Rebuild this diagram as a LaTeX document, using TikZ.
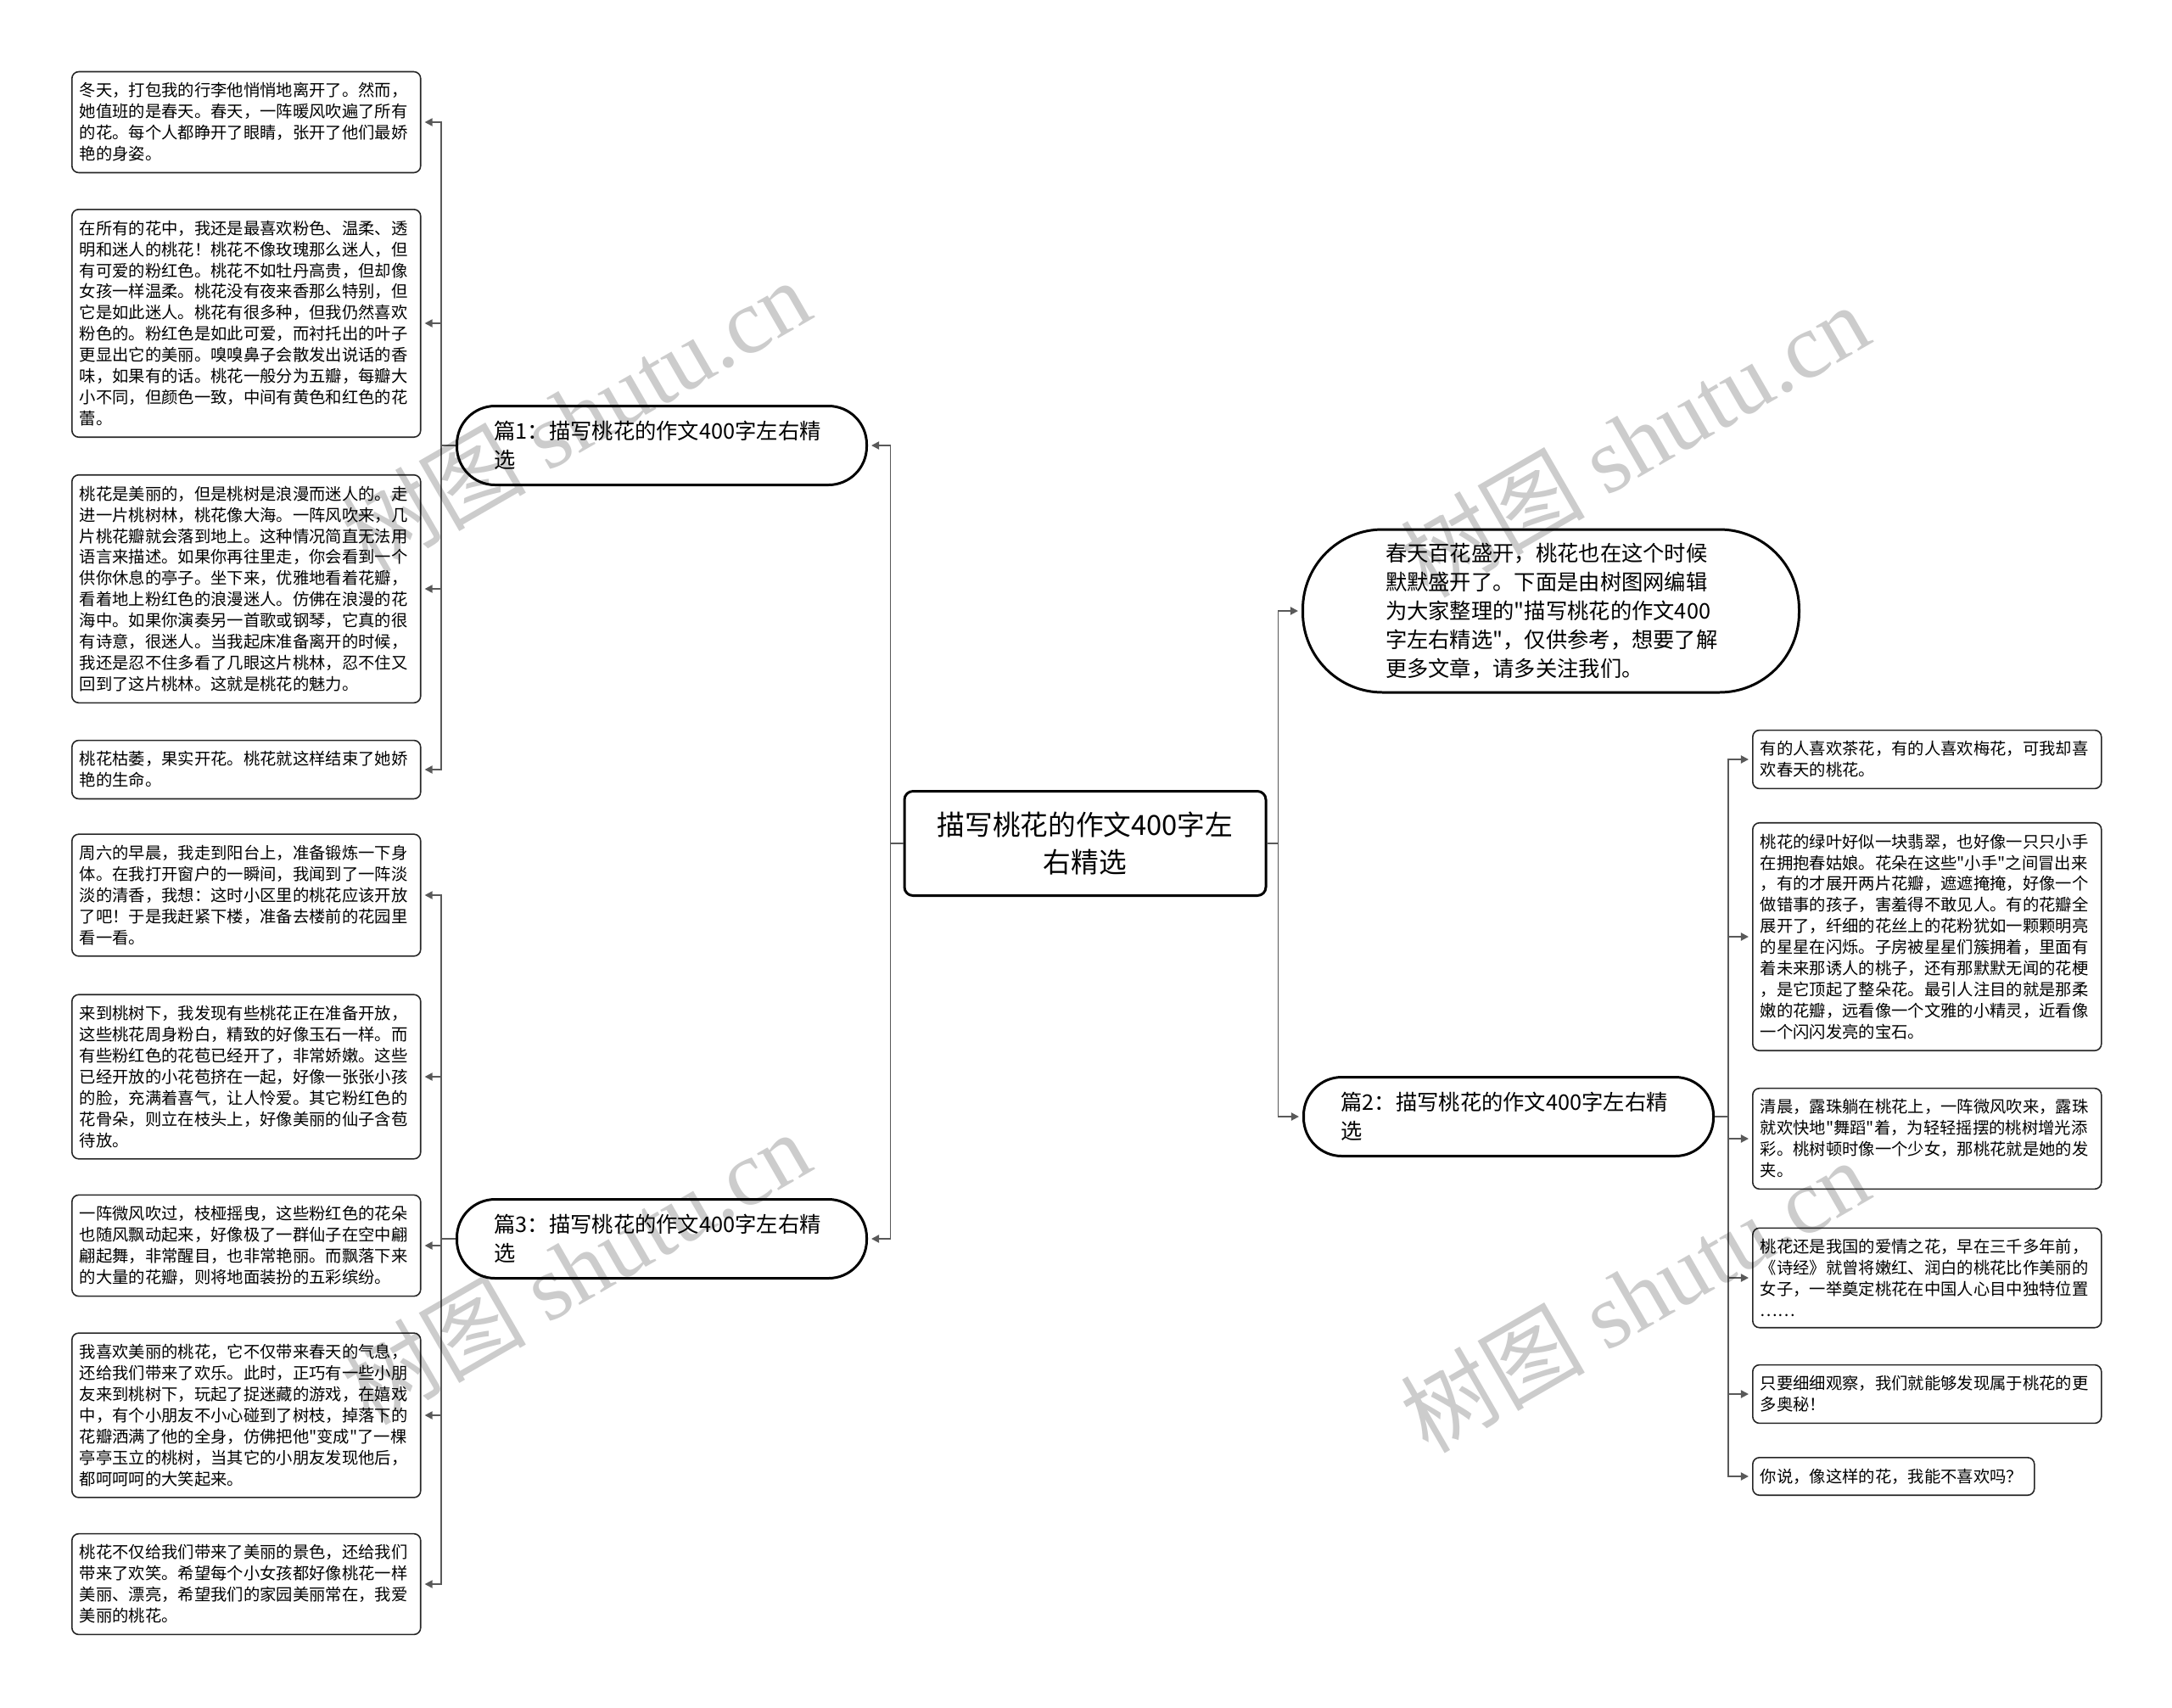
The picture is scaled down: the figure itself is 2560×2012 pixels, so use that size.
\documentclass[tikz,border=0pt]{standalone}
\usepackage{fontspec}
\setmainfont{Noto Sans CJK SC}[Ligatures=TeXOff]
\newfontfamily\wmlatin{Liberation Serif}
\usetikzlibrary{arrows.meta}

\newcommand{\leaffont}{\fontsize{5.5pt}{7.1pt}\selectfont}
\newcommand{\midfont}{\fontsize{7.2pt}{9.7pt}\selectfont}
\newcommand{\rootfont}{\fontsize{9.3pt}{12.5pt}\selectfont}
\newcommand{\wmtext}{\fontsize{31pt}{31pt}\selectfont 树图 {\wmlatin shutu.cn}}

\begin{document}
\begin{tikzpicture}[x=0.1mm,y=-0.1mm,
  leaf/.style={draw=black!85,line width=0.45pt,rounded corners=0.8mm,fill=white,
    text width=39.3mm,inner xsep=0.9mm,inner ysep=1.3mm,align=left,font=\leaffont},
  part/.style={draw=black,line width=0.85pt,rounded corners=4.5mm,fill=white,
    text width=39.5mm,inner xsep=4.4mm,minimum height=9.3mm,align=left,font=\midfont},
  conn/.style={draw=black!65,line width=0.55pt,-{Triangle[length=2.6pt,width=2.6pt]},shorten >=0.4mm},
  wm/.style={text=black,text opacity=0.2,rotate=30}]
  \useasboundingbox (0,0) rectangle (2560,2012);

  % Draw root
  \node[draw=black,line width=0.85pt,rounded corners=1mm,fill=white,text width=38mm,
    inner xsep=2.3mm,minimum height=12.3mm,align=center,font=\rootfont]
    (root) at (1279,994) {描写桃花的作文400字左\\右精选};

  % Draw parts
  \node[part] (p1) at (780,525) {篇1：描写桃花的作文400字左右精\\选};
  \node[part] (p3) at (780,1460) {篇3：描写桃花的作文400字左右精\\选};
  \node[part] (p2) at (1778,1316) {篇2：描写桃花的作文400字左右精\\选};
  \node[part,text width=39mm,inner xsep=9.75mm,minimum height=19.2mm,rounded corners=9.4mm]
    (intro) at (1828,720) {春天百花盛开，桃花也在这个时候\\默默盛开了。下面是由树图网编辑\\为大家整理的"描写桃花的作文400\\字左右精选"，仅供参考，想要了解\\更多文章，请多关注我们。};

  % Draw left leaves
  \node[leaf,anchor=west] (l1) at (84,144) {冬天，打包我的行李他悄悄地离开了。然而，\\她值班的是春天。春天，一阵暖风吹遍了所有\\的花。每个人都睁开了眼睛，张开了他们最娇\\艳的身姿。};
  \node[leaf,anchor=west] (l2) at (84,381) {在所有的花中，我还是最喜欢粉色、温柔、透\\明和迷人的桃花！桃花不像玫瑰那么迷人，但\\有可爱的粉红色。桃花不如牡丹高贵，但却像\\女孩一样温柔。桃花没有夜来香那么特别，但\\它是如此迷人。桃花有很多种，但我仍然喜欢\\粉色的。粉红色是如此可爱，而衬托出的叶子\\更显出它的美丽。嗅嗅鼻子会散发出说话的香\\味，如果有的话。桃花一般分为五瓣，每瓣大\\小不同，但颜色一致，中间有黄色和红色的花\\蕾。};
  \node[leaf,anchor=west] (l3) at (84,694) {桃花是美丽的，但是桃树是浪漫而迷人的。走\\进一片桃树林，桃花像大海。一阵风吹来，几\\片桃花瓣就会落到地上。这种情况简直无法用\\语言来描述。如果你再往里走，你会看到一个\\供你休息的亭子。坐下来，优雅地看着花瓣，\\看着地上粉红色的浪漫迷人。仿佛在浪漫的花\\海中。如果你演奏另一首歌或钢琴，它真的很\\有诗意，很迷人。当我起床准备离开的时候，\\我还是忍不住多看了几眼这片桃林，忍不住又\\回到了这片桃林。这就是桃花的魅力。};
  \node[leaf,anchor=west] (l4) at (84,907) {桃花枯萎，果实开花。桃花就这样结束了她娇\\艳的生命。};
  \node[leaf,anchor=west] (l5) at (84,1055) {周六的早晨，我走到阳台上，准备锻炼一下身\\体。在我打开窗户的一瞬间，我闻到了一阵淡\\淡的清香，我想：这时小区里的桃花应该开放\\了吧！于是我赶紧下楼，准备去楼前的花园里\\看一看。};
  \node[leaf,anchor=west] (l6) at (84,1269) {来到桃树下，我发现有些桃花正在准备开放，\\这些桃花周身粉白，精致的好像玉石一样。而\\有些粉红色的花苞已经开了，非常娇嫩。这些\\已经开放的小花苞挤在一起，好像一张张小孩\\的脸，充满着喜气，让人怜爱。其它粉红色的\\花骨朵，则立在枝头上，好像美丽的仙子含苞\\待放。};
  \node[leaf,anchor=west] (l7) at (84,1468) {一阵微风吹过，枝桠摇曳，这些粉红色的花朵\\也随风飘动起来，好像极了一群仙子在空中翩\\翩起舞，非常醒目，也非常艳丽。而飘落下来\\的大量的花瓣，则将地面装扮的五彩缤纷。};
  \node[leaf,anchor=west] (l8) at (84,1668) {我喜欢美丽的桃花，它不仅带来春天的气息，\\还给我们带来了欢乐。此时，正巧有一些小朋\\友来到桃树下，玩起了捉迷藏的游戏，在嬉戏\\中，有个小朋友不小心碰到了树枝，掉落下的\\花瓣洒满了他的全身，仿佛把他"变成"了一棵\\亭亭玉立的桃树，当其它的小朋友发现他后，\\都呵呵呵的大笑起来。};
  \node[leaf,anchor=west] (l9) at (84,1867) {桃花不仅给我们带来了美丽的景色，还给我们\\带来了欢笑。希望每个小女孩都好像桃花一样\\美丽、漂亮，希望我们的家园美丽常在，我爱\\美丽的桃花。};

  % Draw right leaves
  \node[leaf,anchor=west] (r1) at (2065,895) {有的人喜欢茶花，有的人喜欢梅花，可我却喜\\欢春天的桃花。};
  \node[leaf,anchor=west] (r2) at (2065,1104) {桃花的绿叶好似一块翡翠，也好像一只只小手\\在拥抱春姑娘。花朵在这些"小手"之间冒出来\\，有的才展开两片花瓣，遮遮掩掩，好像一个\\做错事的孩子，害羞得不敢见人。有的花瓣全\\展开了，纤细的花丝上的花粉犹如一颗颗明亮\\的星星在闪烁。子房被星星们簇拥着，里面有\\着未来那诱人的桃子，还有那默默无闻的花梗\\，是它顶起了整朵花。最引人注目的就是那柔\\嫩的花瓣，远看像一个文雅的小精灵，近看像\\一个闪闪发亮的宝石。};
  \node[leaf,anchor=west] (r3) at (2065,1342) {清晨，露珠躺在桃花上，一阵微风吹来，露珠\\就欢快地"舞蹈"着，为轻轻摇摆的桃树增光添\\彩。桃树顿时像一个少女，那桃花就是她的发\\夹。};
  \node[leaf,anchor=west] (r4) at (2065,1506) {桃花还是我国的爱情之花，早在三千多年前，\\《诗经》就曾将嫩红、润白的桃花比作美丽的\\女子，一举奠定桃花在中国人心目中独特位置\\……};
  \node[leaf,anchor=west] (r5) at (2065,1643) {只要细细观察，我们就能够发现属于桃花的更\\多奥秘！};
  \node[leaf,anchor=west,text width=31.4mm] (r6) at (2065,1740) {你说，像这样的花，我能不喜欢吗？};

  % Draw connectors
  \draw[conn] (root.west) -- ++(-15,0) |- (p1.east);
  \draw[conn] (root.west) -- ++(-15,0) |- (p3.east);
  \draw[conn] (root.east) -- ++(13,0) |- (intro.west);
  \draw[conn] (root.east) -- ++(13,0) |- (p2.west);
  \foreach \n in {l1,l2,l3,l4}
    \draw[conn] (p1.west) -- ++(-17,0) |- (\n.east);
  \foreach \n in {l5,l6,l7,l8,l9}
    \draw[conn] (p3.west) -- ++(-17,0) |- (\n.east);
  \foreach \n in {r1,r2,r3,r4,r5,r6}
    \draw[conn] (p2.east) -- ++(16,0) |- (\n.west);

  % Watermarks
  \node[wm] (wm1) at (678,490) {\wmtext};
  \node[wm] (wm2) at (1926,519) {\wmtext};
  \node[wm] (wm3) at (678,1494) {\wmtext};
  \node[wm] (wm4) at (1926,1527) {\wmtext};
\end{tikzpicture}
\end{document}
